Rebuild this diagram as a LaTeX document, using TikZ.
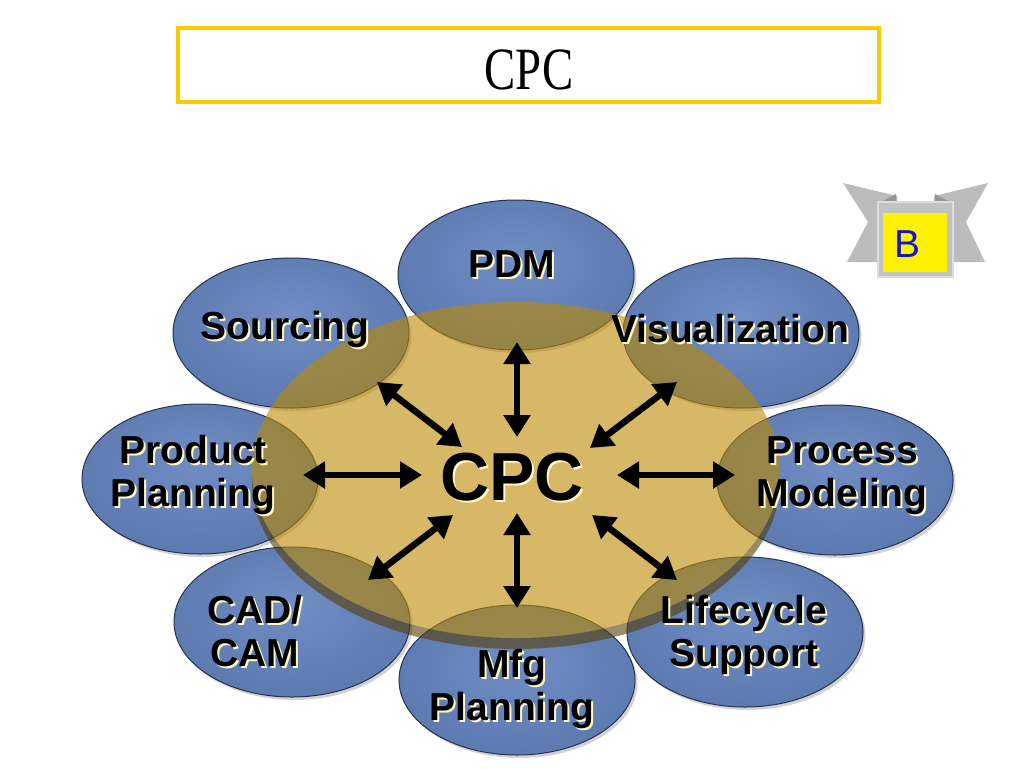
\documentclass[tikz,border=0pt]{standalone}
\usepackage{fontspec}
\setmainfont{Liberation Serif}
\setsansfont{Liberation Sans}
\usetikzlibrary{shapes.geometric,arrows.meta,shadows}
\definecolor{satlight}{RGB}{112,142,196}
\definecolor{satmid}{RGB}{92,122,176}
\definecolor{satedge}{RGB}{78,104,154}
\definecolor{satdark}{RGB}{54,74,116}
\definecolor{satline}{RGB}{40,50,76}
\definecolor{hubgold}{RGB}{188,138,0}
\definecolor{hubrim}{RGB}{85,62,6}
\definecolor{titlegold}{RGB}{250,204,0}
\definecolor{shade}{RGB}{255,248,200}
\definecolor{ribbon}{RGB}{188,188,188}
\definecolor{ribbonfold}{RGB}{150,150,150}
\definecolor{letterblue}{RGB}{20,20,200}
\pgfdeclareradialshading{satshade}{\pgfpoint{0bp}{6bp}}{color(0bp)=(satlight); color(28bp)=(satmid); color(44bp)=(satedge); color(50bp)=(satdark)}
\newcommand\shadetext[1]{\rlap{\kern2pt\raisebox{-2pt}{\color{shade}#1}}#1}
\begin{document}
\begin{tikzpicture}[x=1pt, y=-1pt,
    satellite/.style={ellipse, minimum width=236pt, minimum height=150pt, inner sep=0pt,
      shade, shading=satshade, draw=satline, line width=1pt,
      drop shadow={shadow xshift=2.5pt, shadow yshift=-3pt, opacity=0.35}},
    hub/.style={ellipse, minimum width=528pt, minimum height=336pt, inner sep=0pt},
    label/.style={font=\sffamily\bfseries\fontsize{39}{43}\selectfont, align=center, inner sep=0pt},
    link/.style={line width=6.5pt, {Triangle[length=22pt,width=26pt]}-{Triangle[length=22pt,width=26pt]}}]
    \useasboundingbox (0,0) rectangle (1024,768);
    \fill[white] (0,0) rectangle (1024,768);
    % title
    \node [draw=titlegold, line width=4pt, minimum width=701pt, minimum height=74pt, inner sep=0pt] (title) at (528.5,65) {};
    \node [inner sep=0pt, font=\fontsize{60}{60}\selectfont] (title-text) at (529,70) {\scalebox{0.78}[1]{CPC}};
    % badge
    \fill[ribbon] (843,183) -- (897,196) -- (897,262) -- (847,262) -- (868,222) -- cycle;
    \fill[ribbon] (988,183) -- (934,196) -- (934,262) -- (985,262) -- (966,222) -- cycle;
    \fill[ribbonfold] (879,203) -- (896,194) -- (896,203) -- cycle;
    \fill[ribbonfold] (952,203) -- (935,194) -- (935,203) -- cycle;
    \node [draw=ribbon!50!white, fill=ribbon!90!white, line width=1.5pt, minimum size=75pt, inner sep=0pt] (badge) at (915.5,239.5) {};
    \node [fill=yellow, minimum width=64pt, minimum height=59pt, inner sep=0pt] (badge-box) at (915,242.5) {};
    \node [font=\sffamily\fontsize{39}{39}\selectfont, text=letterblue, inner sep=0pt] (badge-letter) at (907,244) {B};
    % satellites
    \node [satellite] (pdm) at (516,275) {};
    \node [satellite] (sourcing) at (291,333) {};
    \node [satellite] (visual) at (741,333) {};
    \node [satellite] (prodplan) at (200,479) {};
    \node [satellite] (procmod) at (835,480) {};
    \node [satellite] (cadcam) at (292,622) {};
    \node [satellite] (lifecycle) at (745,632) {};
    \node [satellite] (mfgplan) at (517,680) {};
    % hub
    \begin{scope}[transparency group, opacity=0.6]
        \node [hub, fill=hubrim] (hub-rim) at (516,481) {};
        \node [hub, fill=hubgold] (hub) at (516,470) {};
    \end{scope}
    % arrows
    \foreach \n/\ax/\ay/\bx/\by in {pdm/517/437/517/342, mfgplan/517/513/517/608,
        prodplan/422/475/303/475, procmod/617/475/735/475,
        sourcing/462/447/377/382, visual/590/448/677/382,
        cadcam/453/515/368/580, lifecycle/592/515/677/580} {
        \coordinate (\n-in) at (\ax,\ay);
        \coordinate (\n-out) at (\bx,\by);
        \draw[link] (\n-in) -- (\n-out);
    }
    % labels
    \node [label, font=\sffamily\bfseries\fontsize{68}{70}\selectfont] (cpc) at (512,478) {\shadetext{CPC}};
    \node [label] (pdm-text) at (512,265) {\shadetext{PDM}};
    \node [label] (sourcing-text) at (285,330) {\shadetext{Sourcing}};
    \node [label] (visual-text) at (730,330) {\shadetext{Visualization}};
    \node [label] (prodplan-text) at (193,476) {\shadetext{Product}\\\shadetext{Planning}};
    \node [label] (procmod-text) at (842,477) {\shadetext{Process}\\\shadetext{Modeling}};
    \node [label] (cadcam-text) at (255,632) {\shadetext{CAD/}\\\shadetext{CAM}};
    \node [label] (lifecycle-text) at (744,636) {\shadetext{Lifecycle}\\\shadetext{Support}};
    \node [label] (mfgplan-text) at (512,690) {\shadetext{Mfg}\\\shadetext{Planning}};
\end{tikzpicture}
\end{document}
